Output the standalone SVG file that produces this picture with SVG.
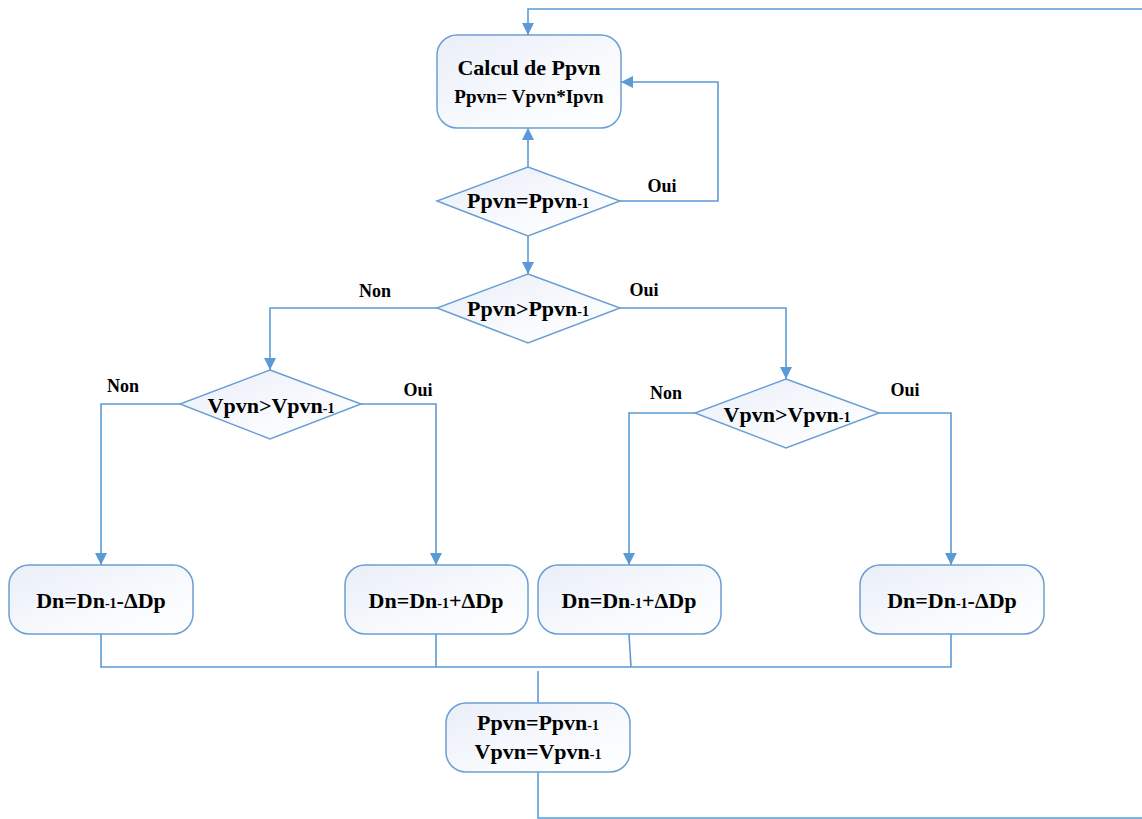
<svg xmlns="http://www.w3.org/2000/svg" width="1142" height="819" viewBox="0 0 1142 819">
  <defs>
    <linearGradient id="fillGrad" x1="0" y1="0" x2="1" y2="1">
      <stop offset="0" stop-color="#e9eef8"/>
      <stop offset="0.6" stop-color="#f8fafd"/>
      <stop offset="1" stop-color="#ffffff"/>
    </linearGradient>
    <marker id="arrow" viewBox="0 0 10 10" refX="10" refY="5" markerWidth="10" markerHeight="10" markerUnits="userSpaceOnUse" orient="auto">
      <path d="M0,0 L10,5 L0,10 Z" fill="#5b9bd5"/>
    </marker>
    <marker id="arrowL" viewBox="0 0 12 12" refX="12" refY="6" markerWidth="12" markerHeight="12" markerUnits="userSpaceOnUse" orient="auto">
      <path d="M0,0 L12,6 L0,12 Z" fill="#5b9bd5"/>
    </marker>
  </defs>
  <style>
    .box { fill: url(#fillGrad); stroke: #6b9fd4; stroke-width: 1.5; }
    .dia { fill: url(#fillGrad); stroke: #6b9fd4; stroke-width: 1.5; }
    .ln { fill: none; stroke: #5b9bd5; stroke-width: 1.6; }
    .arr { marker-end: url(#arrowL); }
    .t { font-family: "Liberation Serif", "Times New Roman", serif; font-weight: bold; fill: #000; text-anchor: middle; }
    .big { font-size: 22px; }
    .mid { font-size: 19px; }
    .lbl { font-size: 18px; }
    .sub { font-size: 14px; }
  </style>

  <rect width="1142" height="819" fill="#ffffff"/>

  <!-- connectors -->
  <g id="connectors">
    <!-- loop back from bottom to top -->
    <path class="ln" d="M538,772 V818 H1142"/>
    <path class="ln arr" d="M1142,9 H528 V35"/>
    <!-- Ppvn = Ppvn-1 : Oui -> back to calcul -->
    <path class="ln arr" d="M620,201 H718 V82 H621"/>
    <!-- Ppvn = Ppvn-1 -> calcul (upwards) -->
    <path class="ln arr" d="M528,167 V128"/>
    <!-- Ppvn = Ppvn-1 -> Ppvn > Ppvn-1 -->
    <path class="ln arr" d="M528,236 V274"/>
    <!-- Ppvn > Ppvn-1 branches -->
    <path class="ln arr" d="M437,308 H270 V370"/>
    <path class="ln arr" d="M620,308 H786 V379"/>
    <!-- left Vpvn > Vpvn-1 branches -->
    <path class="ln arr" d="M180,404 H101 V565"/>
    <path class="ln arr" d="M361,404 H436 V565"/>
    <!-- right Vpvn > Vpvn-1 branches -->
    <path class="ln arr" d="M695,413 H629 V565"/>
    <path class="ln arr" d="M879,413 H951 V565"/>
    <!-- merge of the four updates -->
    <path class="ln" d="M101,634 V667 H951 V634"/>
    <path class="ln" d="M436,634 V667"/>
    <path class="ln" d="M629,634 L631,667"/>
    <path class="ln" d="M538,671 V703"/>
  </g>

  <!-- nodes -->
  <g id="calcul">
    <rect class="box" x="437" y="35" width="184" height="93" rx="20"/>
    <text class="t big" x="529" y="75">Calcul de Ppvn</text>
    <text class="t mid" x="529" y="103">Ppvn= Vpvn*Ipvn</text>
  </g>

  <g id="test-egal">
    <polygon class="dia" points="528,167 620,201 528,236 437,201"/>
    <text class="t big" x="528" y="208">Ppvn=Ppvn<tspan class="sub">-1</tspan></text>
  </g>

  <g id="test-p">
    <polygon class="dia" points="528,274 620,308 528,343 437,308"/>
    <text class="t big" x="528" y="316">Ppvn&gt;Ppvn<tspan class="sub">-1</tspan></text>
  </g>

  <g id="test-v-left">
    <polygon class="dia" points="270,370 361,404 270,439 180,404"/>
    <text class="t big" x="271" y="413">Vpvn&gt;Vpvn<tspan class="sub">-1</tspan></text>
  </g>

  <g id="test-v-right">
    <polygon class="dia" points="786,379 879,413 786,448 695,413"/>
    <text class="t big" x="787" y="422">Vpvn&gt;Vpvn<tspan class="sub">-1</tspan></text>
  </g>

  <g id="dec-left">
    <rect class="box" x="9" y="565" width="184" height="69" rx="20"/>
    <text class="t big" x="101" y="608">Dn=Dn<tspan class="sub">-1</tspan>-ΔDp</text>
  </g>

  <g id="inc-left">
    <rect class="box" x="345" y="565" width="183" height="69" rx="20"/>
    <text class="t big" x="436" y="608">Dn=Dn<tspan class="sub">-1</tspan>+ΔDp</text>
  </g>

  <g id="inc-right">
    <rect class="box" x="538" y="565" width="183" height="69" rx="20"/>
    <text class="t big" x="629" y="608">Dn=Dn<tspan class="sub">-1</tspan>+ΔDp</text>
  </g>

  <g id="dec-right">
    <rect class="box" x="860" y="565" width="184" height="69" rx="20"/>
    <text class="t big" x="952" y="608">Dn=Dn<tspan class="sub">-1</tspan>-ΔDp</text>
  </g>

  <g id="memo">
    <rect class="box" x="446" y="703" width="184" height="69" rx="20"/>
    <text class="t big" x="538" y="730">Ppvn=Ppvn<tspan class="sub">-1</tspan></text>
    <text class="t big" x="538" y="759">Vpvn=Vpvn<tspan class="sub">-1</tspan></text>
  </g>

  <!-- branch labels -->
  <g id="labels">
    <text class="t lbl" x="662" y="192">Oui</text>
    <text class="t lbl" x="375" y="297">Non</text>
    <text class="t lbl" x="644" y="296">Oui</text>
    <text class="t lbl" x="123" y="392">Non</text>
    <text class="t lbl" x="418" y="396">Oui</text>
    <text class="t lbl" x="666" y="399">Non</text>
    <text class="t lbl" x="905" y="396">Oui</text>
  </g>
</svg>
